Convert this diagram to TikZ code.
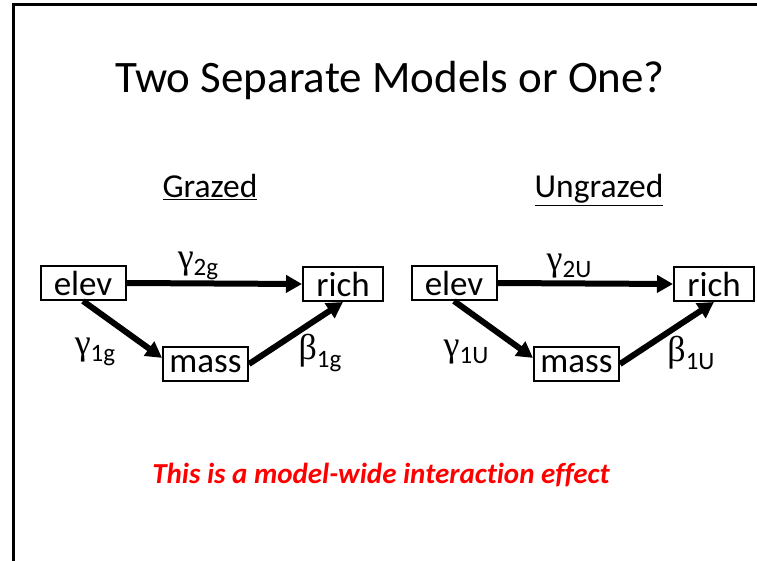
\documentclass[tikz,border=0pt]{standalone}
\usepackage{fontspec}
\setmainfont{Carlito}
\newfontfamily\gk{Liberation Serif}
\newfontfamily\notefont[Ligatures=NoCommon]{Carlito}
\usetikzlibrary{arrows.meta,calc}
\tikzset{
  varbox/.style={draw,line width=2pt,minimum width=85pt,minimum height=34pt,inner sep=0pt,font=\fontsize{35}{35}\selectfont},
  patharrow/.style={line width=6pt,-{Triangle[length=16pt,width=17pt]}},
  coef/.style={inner sep=0pt,font=\fontsize{36}{36}\selectfont},
  heading/.style={anchor=base,inner sep=0pt,font=\fontsize{33.5}{33.5}\selectfont},
}
\newcommand{\coefl}[2]{{\gk #1}\raisebox{-0.2em}{\fontsize{25}{25}\selectfont #2}}
\begin{document}
\begin{tikzpicture}[x=1pt,y=-1pt]
\useasboundingbox (0,0) rectangle (757,561);
\fill[white] (0,0) rectangle (757,561);
\draw[line width=3pt] (13,562) -- (13,5) -- (758,5);
\node[anchor=base,inner sep=0pt,font=\fontsize{45}{45}\selectfont] (title) at (390,93) {Two Separate Models or One?};
\node[heading] (hg) at (210,198) {\underline{Grazed}};
\node[heading] (hu) at (599,198) {\underline{Ungrazed}};
% Grazed
\node[varbox] (e1) at (83,283) {elev};
\node[varbox] (m1) at (205.5,364) {mass};
\node[varbox,minimum width=80pt] (r1) at (343,284) {rich};
\draw[patharrow] (e1.east) -- (r1.west);
\draw[patharrow] (e1.south) -- (m1.172);
\draw[patharrow] (m1.east) -- (r1.south);
\node[coef] (g2g) at (198,266) {\coefl{γ}{2g}};
\node[coef] (g1g) at (95,352) {\coefl{γ}{1g}};
\node[coef] (b1g) at (320,353) {\coefl{β}{1g}};
% Ungrazed
\node[varbox] (e2) at (454,283) {elev};
\node[varbox] (m2) at (576.5,364) {mass};
\node[varbox,minimum width=80pt] (r2) at (714,284) {rich};
\draw[patharrow] (e2.east) -- (r2.west);
\draw[patharrow] (e2.south) -- (m2.172);
\draw[patharrow] (m2.east) -- (r2.south);
\node[coef] (g2u) at (569,266) {\coefl{γ}{2U}};
\node[coef] (g1u) at (466,352) {\coefl{γ}{1U}};
\node[coef] (b1u) at (691,353) {\coefl{β}{1U}};
\node[anchor=base,inner sep=0pt,text=red,font=\fontsize{29}{29}\notefont\bfseries\itshape] (note) at (381,483) {This is a model-wide interaction effect};
\end{tikzpicture}
\end{document}
